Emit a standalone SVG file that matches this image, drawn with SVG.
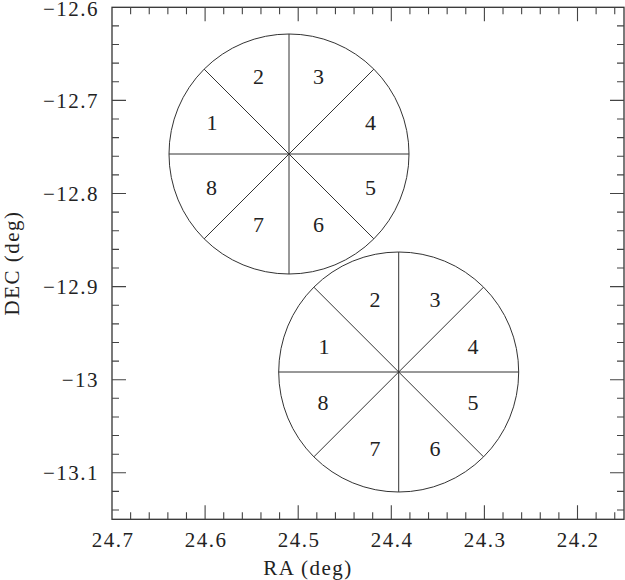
<svg xmlns="http://www.w3.org/2000/svg" width="625" height="580" viewBox="0 0 625 580">
<style>
.ax{fill:none;stroke:#333;stroke-width:1.3}
.tk{fill:none;stroke:#444;stroke-width:1.1}
.ln{fill:none;stroke:#333;stroke-width:1}
.t{font-family:"Liberation Serif","Times New Roman",serif;font-size:21px;fill:#222;letter-spacing:1.5px}
.ty{text-anchor:end}
.tx{text-anchor:middle}
.n{font-family:"Liberation Serif","Times New Roman",serif;font-size:22px;fill:#222;text-anchor:middle}
</style>
<rect width="625" height="580" fill="#fff"/>
<g id="axes">
<rect class="ax" x="112" y="7.3" width="512" height="512"/>
<path class="tk" d="M130.62 519.3v-7M149.24 519.3v-7M167.86 519.3v-7M186.48 519.3v-7M223.72 519.3v-7M242.34 519.3v-7M260.96 519.3v-7M279.58 519.3v-7M316.82 519.3v-7M335.44 519.3v-7M354.06 519.3v-7M372.68 519.3v-7M409.92 519.3v-7M428.54 519.3v-7M447.16 519.3v-7M465.78 519.3v-7M503.02 519.3v-7M521.64 519.3v-7M540.26 519.3v-7M558.88 519.3v-7M596.12 519.3v-7M614.74 519.3v-7M205.1 519.3v-14M298.2 519.3v-14M391.3 519.3v-14M484.4 519.3v-14M577.5 519.3v-14"/>
<path class="tk" d="M130.62 7.3v7M149.24 7.3v7M167.86 7.3v7M186.48 7.3v7M223.72 7.3v7M242.34 7.3v7M260.96 7.3v7M279.58 7.3v7M316.82 7.3v7M335.44 7.3v7M354.06 7.3v7M372.68 7.3v7M409.92 7.3v7M428.54 7.3v7M447.16 7.3v7M465.78 7.3v7M503.02 7.3v7M521.64 7.3v7M540.26 7.3v7M558.88 7.3v7M596.12 7.3v7M614.74 7.3v7M205.1 7.3v14M298.2 7.3v14M391.3 7.3v14M484.4 7.3v14M577.5 7.3v14"/>
<path class="tk" d="M112 25.92h7M112 44.54h7M112 63.16h7M112 81.78h7M112 119.02h7M112 137.64h7M112 156.26h7M112 174.88h7M112 212.12h7M112 230.74h7M112 249.36h7M112 267.98h7M112 305.22h7M112 323.84h7M112 342.46h7M112 361.08h7M112 398.32h7M112 416.94h7M112 435.56h7M112 454.18h7M112 491.42h7M112 510.04h7M112 100.4h14M112 193.5h14M112 286.6h14M112 379.7h14M112 472.8h14"/>
<path class="tk" d="M624 25.92h-7M624 44.54h-7M624 63.16h-7M624 81.78h-7M624 119.02h-7M624 137.64h-7M624 156.26h-7M624 174.88h-7M624 212.12h-7M624 230.74h-7M624 249.36h-7M624 267.98h-7M624 305.22h-7M624 323.84h-7M624 342.46h-7M624 361.08h-7M624 398.32h-7M624 416.94h-7M624 435.56h-7M624 454.18h-7M624 491.42h-7M624 510.04h-7M624 100.4h-14M624 193.5h-14M624 286.6h-14M624 379.7h-14M624 472.8h-14"/>
<text class="t ty" x="99" y="15.8">−12.6</text>
<text class="t ty" x="99" y="107.6">−12.7</text>
<text class="t ty" x="99" y="200.7">−12.8</text>
<text class="t ty" x="99" y="293.8">−12.9</text>
<text class="t ty" x="99" y="386.9">−13</text>
<text class="t ty" x="99" y="480">−13.1</text>
<text class="t tx" x="113" y="546.7">24.7</text>
<text class="t tx" x="206" y="546.7">24.6</text>
<text class="t tx" x="299" y="546.7">24.5</text>
<text class="t tx" x="392" y="546.7">24.4</text>
<text class="t tx" x="485" y="546.7">24.3</text>
<text class="t tx" x="578" y="546.7">24.2</text>
<text class="t tx" x="308" y="575">RA (deg)</text>
<text class="t tx" transform="translate(18.5 263) rotate(-90)">DEC (deg)</text>
</g>
<g id="field1">
<circle class="ln" cx="289" cy="154" r="120"/>
<path class="ln" d="M169 154H409M289 34V274M204.15 69.15L373.85 238.85M373.85 69.15L204.15 238.85"/>
<text class="n" x="212" y="129.5">1</text>
<text class="n" x="258.5" y="83.5">2</text>
<text class="n" x="318.5" y="83.5">3</text>
<text class="n" x="370.5" y="129.5">4</text>
<text class="n" x="370.5" y="194.5">5</text>
<text class="n" x="318.5" y="231.5">6</text>
<text class="n" x="258.5" y="231.5">7</text>
<text class="n" x="211.5" y="194.5">8</text>
</g>
<g id="field2">
<circle class="ln" cx="398.7" cy="372" r="120"/>
<path class="ln" d="M278.7 372H518.7M398.7 252V492M313.85 287.15L483.55 456.85M483.55 287.15L313.85 456.85"/>
<text class="n" x="324" y="353.5">1</text>
<text class="n" x="375" y="306.5">2</text>
<text class="n" x="435" y="306.5">3</text>
<text class="n" x="473" y="353.5">4</text>
<text class="n" x="473" y="409.5">5</text>
<text class="n" x="435" y="456">6</text>
<text class="n" x="375" y="456">7</text>
<text class="n" x="323" y="409.5">8</text>
</g>
</svg>
